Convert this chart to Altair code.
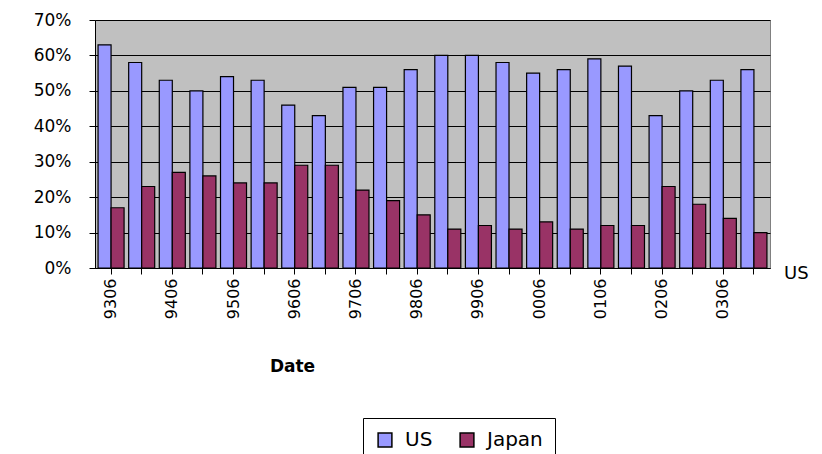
import altair as alt
import pandas as pd

# ---- data ----
dates = ["9306", "9312", "9406", "9412", "9506", "9512", "9606", "9612",
         "9706", "9712", "9806", "9812", "9906", "9912", "0006", "0012",
         "0106", "0112", "0206", "0212", "0306", "0312"]
us = [63, 58, 53, 50, 54, 53, 46, 43, 51, 51, 56, 60, 60, 58, 55, 56,
      59, 57, 43, 50, 53, 56]
japan = [17, 23, 27, 26, 24, 24, 29, 29, 22, 19, 15, 11, 12, 11, 13, 11,
         12, 12, 23, 18, 14, 10]
series = ["US", "Japan"]
colors = ["#9999FF", "#993366"]
y_ticks = [0, 0.1, 0.2, 0.3, 0.4, 0.5, 0.6, 0.7]

rows = []
for d, u, j in zip(dates, us, japan):
    rows.append({"Date": d, "Series": "US", "Value": u / 100})
    rows.append({"Date": d, "Series": "Japan", "Value": j / 100})
df = pd.DataFrame(rows)

W, H = 675, 248
FONT = "DejaVu Sans"

bars = alt.Chart(df).mark_bar(stroke="black", strokeWidth=1.2).encode(
    x=alt.X(
        "Date:N",
        sort=dates,
        scale=alt.Scale(paddingInner=0.15, paddingOuter=0.1),
        axis=alt.Axis(
            title="Date",
            labelAngle=270,
            labelAlign="right",
            labelBaseline="middle",
            labelExpr="substring(datum.label, 2) == '06' ? datum.label : ''",
            labelFont=FONT,
            labelFontSize=16,
            labelColor="black",
            labelPadding=4,
            tickColor="black",
            tickSize=6,
            domainColor="black",
            titleFont=FONT,
            titleFontSize=17,
            titleFontWeight="bold",
            titleColor="black",
            titleX=197,
            titleY=90,
        ),
    ),
    xOffset=alt.XOffset("Series:N", sort=series),
    y=alt.Y(
        "Value:Q",
        title=None,
        scale=alt.Scale(domain=[0, 0.7], nice=False),
        axis=alt.Axis(
            format=".0%",
            values=y_ticks,
            labelOverlap=False,
            grid=True,
            gridColor="black",
            gridWidth=1,
            labelFont=FONT,
            labelFontSize=17,
            labelColor="black",
            labelPadding=18,
            tickColor="black",
            tickSize=6,
            domainColor="black",
        ),
    ),
    color=alt.Color(
        "Series:N",
        sort=series,
        scale=alt.Scale(domain=series, range=colors),
        legend=alt.Legend(
            title=None,
            orient="none",
            direction="horizontal",
            legendX=268,
            legendY=398,
            strokeColor="black",
            fillColor="white",
            padding=12,
            symbolType="square",
            symbolSize=190,
            symbolStrokeColor="black",
            symbolStrokeWidth=1.5,
            labelFont=FONT,
            labelFontSize=20,
            labelColor="black",
            labelOffset=10,
            columnPadding=24,
        ),
    ),
)

depth_label = alt.Chart(pd.DataFrame({"label": ["US"]})).mark_text(
    align="left", baseline="middle", font=FONT, fontSize=18, color="black"
).encode(
    x=alt.value(W + 14),
    y=alt.value(H + 6),
    text="label:N",
)

chart = alt.layer(bars, depth_label).properties(
    width=W,
    height=H,
    autosize=alt.AutoSizeParams(type="none"),
    padding={"left": 95, "top": 20, "right": 52, "bottom": 186},
    background="white",
).configure_view(
    fill="#C0C0C0",
    stroke="#808080",
)

chart.save("out.html", embed_options={"renderer": "svg", "actions": False})
